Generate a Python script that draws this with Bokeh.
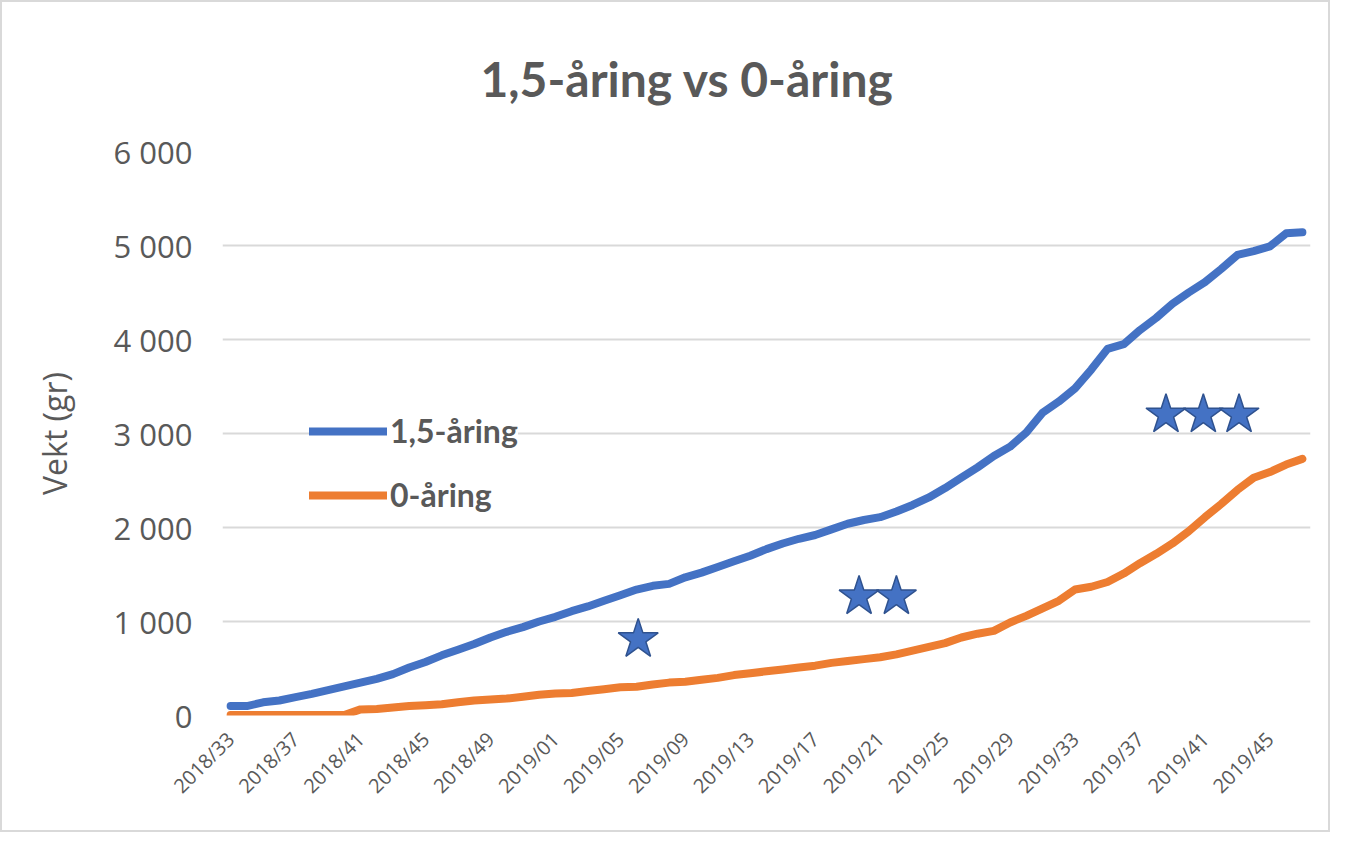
import math
from bokeh.plotting import figure
from bokeh.models import FixedTicker, Legend, LegendItem, ColumnDataSource, Range1d
from bokeh.embed import file_html
from bokeh.resources import INLINE

# ---- data ----
weeks = [f"2018/{w:02d}" for w in range(33, 53)] + [f"2019/{w:02d}" for w in range(1, 48)]

yr15 = [100, 100, 140, 160, 195, 230, 270, 310, 350, 390,
        440, 510, 570, 640, 700, 760, 830, 890, 940, 1000,
        1050, 1110, 1160, 1220, 1280, 1340, 1380, 1400, 1470, 1520,
        1580, 1640, 1700, 1770, 1830, 1880, 1920, 1980, 2040, 2080,
        2110, 2170, 2240, 2320, 2420, 2530, 2640, 2760, 2860, 3010,
        3220, 3340, 3480, 3680, 3900, 3950, 4100, 4230, 4380, 4500,
        4610, 4750, 4900, 4940, 4990, 5130, 5140]

yr0 = [5, 5, 5, 5, 5, 5, 5, 5, 65, 70,
       85, 100, 110, 120, 140, 160, 170, 180, 200, 220,
       235, 240, 260, 280, 300, 305, 330, 350, 360, 380,
       400, 430, 450, 470, 490, 510, 530, 560, 580, 600,
       620, 650, 690, 730, 770, 830, 870, 900, 990, 1060,
       1140, 1220, 1340, 1370, 1420, 1510, 1620, 1720, 1830, 1960,
       2110, 2250, 2400, 2530, 2590, 2670, 2730]

series_names = ["1,5-åring", "0-åring"]
series_colors = ["#4472C4", "#ED7D31"]

# star annotations: position in weeks-index units and value units
star_x = [25.1, 38.7, 41.0, 57.6, 59.9, 62.1]
star_y = [810, 1265, 1265, 3200, 3200, 3200]

y_ticks = [0, 1000, 2000, 3000, 4000, 5000, 6000]
y_tick_labels = ["0", "1 000", "2 000", "3 000", "4 000", "5 000", "6 000"]
x_tick_idx = list(range(0, len(weeks), 4))

title_text = "1,5-åring vs 0-åring"
y_label = "Vekt (gr)"

# ---- figure ----
W, H = 1330, 832
p = figure(width=W, height=H, output_backend="svg", toolbar_location=None,
           x_range=Range1d(-0.5, len(weeks) - 0.5), y_range=Range1d(0, 6000),
           min_border_left=220, min_border_right=22, min_border_top=149, min_border_bottom=119,
           title=title_text)
p.styles = {"border": "2px solid #d9d9d9"}
p.outline_line_color = None
p.background_fill_color = "white"
p.border_fill_color = "white"

p.title.text_font = "Lato"
p.title.text_font_style = "bold"
p.title.text_font_size = "48px"
p.title.text_color = "#595959"
p.title.align = "left"
p.title.offset = 258
p.title.standoff = 90

x = list(range(len(weeks)))
src = ColumnDataSource(dict(x=x, a=yr15, b=yr0))

p.ygrid.ticker = FixedTicker(ticks=y_ticks)
p.ygrid.grid_line_color = "#d9d9d9"
p.ygrid.grid_line_width = 2
p.xgrid.grid_line_color = None

r1 = p.line("x", "a", source=src, line_color=series_colors[0], line_width=8,
            line_cap="round", line_join="round")
r2 = p.line("x", "b", source=src, line_color=series_colors[1], line_width=8,
            line_cap="round", line_join="round")

p.scatter(star_x, star_y, marker="star", size=42, fill_color="#4472C4",
          line_color="#2F528F", line_width=1.5)

# axes
p.yaxis.ticker = FixedTicker(ticks=y_ticks)
p.yaxis.major_label_overrides = {t: l for t, l in zip(y_ticks, y_tick_labels)}
p.yaxis.axis_line_color = None
p.yaxis.major_tick_line_color = None
p.yaxis.minor_tick_line_color = None
p.yaxis.major_label_text_font = "Open Sans"
p.yaxis.major_label_text_font_size = "31px"
p.yaxis.major_label_text_color = "#595959"
p.yaxis.major_label_standoff = 24
p.yaxis.axis_label = y_label
p.yaxis.axis_label_text_font = "Open Sans"
p.yaxis.axis_label_text_font_style = "normal"
p.yaxis.axis_label_text_font_size = "32px"
p.yaxis.axis_label_text_color = "#595959"
p.yaxis.axis_label_standoff = 35

p.xaxis.ticker = FixedTicker(ticks=x_tick_idx)
p.xaxis.major_label_overrides = {i: weeks[i] for i in x_tick_idx}
p.xaxis.axis_line_color = None
p.xaxis.major_tick_line_color = None
p.xaxis.minor_tick_line_color = None
p.xaxis.major_label_orientation = math.pi / 4
p.xaxis.major_label_text_font = "Open Sans"
p.xaxis.major_label_text_font_size = "20px"
p.xaxis.major_label_text_color = "#595959"
p.xaxis.major_label_standoff = 14

legend = Legend(items=[LegendItem(label=series_names[0], renderers=[r1]),
                       LegendItem(label=series_names[1], renderers=[r2])],
                location=(87, 201), orientation="vertical")
legend.label_text_font = "Lato"
legend.label_text_font_style = "bold"
legend.label_text_font_size = "32px"
legend.label_text_color = "#595959"
legend.glyph_width = 78
legend.glyph_height = 30
legend.label_height = 30
legend.label_standoff = 3
legend.spacing = 25
legend.padding = 0
legend.margin = 0
legend.border_line_color = None
legend.background_fill_color = "white"
legend.background_fill_alpha = 1.0
p.add_layout(legend, "center")

open("out.html", "w").write(file_html(p, INLINE))
